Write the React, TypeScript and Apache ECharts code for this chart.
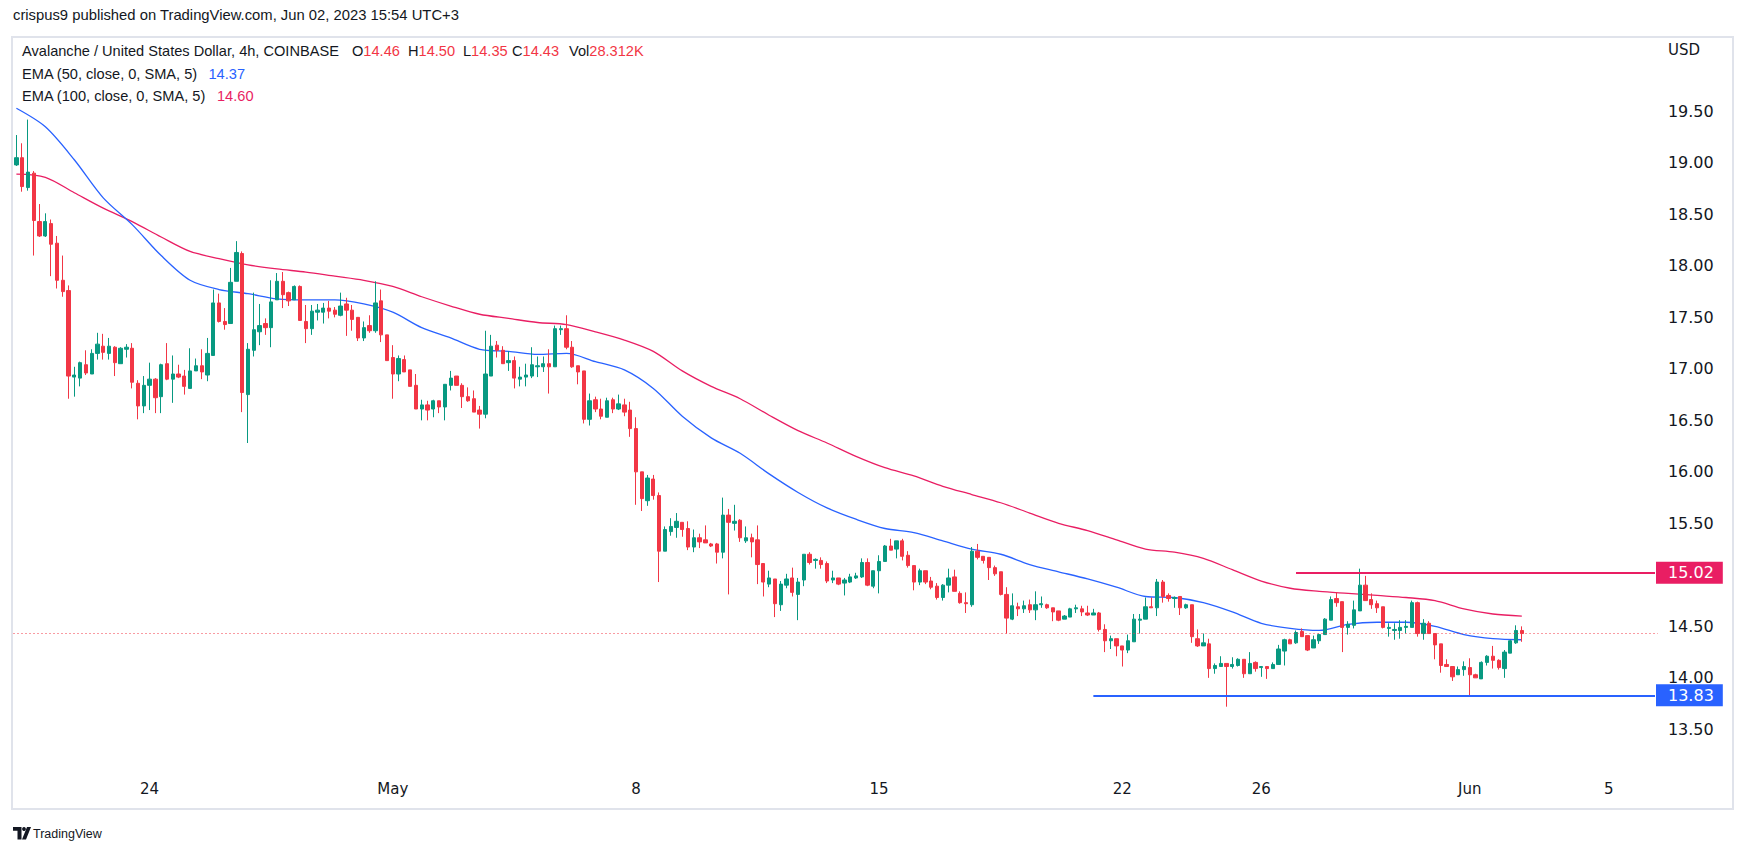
import React, { useEffect, useRef } from "react";
import * as echarts from "echarts";

// ---------- time axis ----------
const FIRST_BAR_UTC = Date.UTC(2023, 3, 20, 4, 0, 0); // first 4h candle shown
const BAR_MS = 4 * 3600 * 1000;
const SLOT_COUNT = 284; // candles + empty space on the right

const tickDates = ["2023-04-24", "2023-05-01", "2023-05-08", "2023-05-15", "2023-05-22", "2023-05-26", "2023-06-01", "2023-06-05"];
const tickLabels = ["24", "May", "8", "15", "22", "26", "Jun", "5"];

// ---------- AVAX/USD 4h candles ----------
const candleOpen = [
  18.98, 19.05, 18.76, 18.90, 18.43, 18.29, 18.41, 18.22, 17.86, 17.76,
  16.92, 16.91, 17.04, 16.95, 17.15, 17.22, 17.15, 17.21, 17.05, 17.19,
  17.20, 16.86, 16.64, 16.84, 16.90, 16.73, 17.05, 16.90, 16.95, 16.93,
  16.81, 16.98, 17.03, 16.94, 17.13, 17.64, 17.46, 17.44, 17.85, 18.12,
  16.75, 17.18, 17.36, 17.44, 17.40, 17.67, 17.85, 17.74, 17.67, 17.80,
  17.46, 17.39, 17.55, 17.55, 17.59, 17.57, 17.52, 17.63, 17.57, 17.50,
  17.30, 17.42, 17.37, 17.66, 17.33, 17.11, 16.95, 17.09, 16.99, 16.84,
  16.61, 16.65, 16.61, 16.69, 16.63, 16.84, 16.93, 16.84, 16.73, 16.71,
  16.60, 16.56, 16.93, 17.23, 17.18, 17.06, 17.08, 16.90, 16.92, 16.93,
  17.02, 17.02, 17.05, 17.02, 17.38, 17.39, 17.21, 17.03, 16.98, 16.51,
  16.70, 16.61, 16.53, 16.70, 16.61, 16.65, 16.60, 16.42, 16.00, 15.72,
  15.93, 15.77, 15.23, 15.42, 15.46, 15.51, 15.45, 15.27, 15.36, 15.34,
  15.30, 15.30, 15.22, 15.58, 15.50, 15.53, 15.33, 15.36, 15.34, 15.11,
  14.91, 14.96, 14.71, 14.90, 14.97, 14.81, 14.95, 15.20, 15.14, 15.14,
  15.11, 14.95, 14.97, 14.92, 14.93, 14.97, 14.98, 15.12, 14.89, 15.04,
  15.13, 15.28, 15.25, 15.33, 15.19, 15.09, 14.93, 15.04, 14.94, 14.89,
  14.78, 14.90, 14.98, 14.82, 14.73, 14.71, 15.23, 15.18, 15.17, 15.07,
  15.03, 14.81, 14.57, 14.69, 14.67, 14.71, 14.66, 14.71, 14.71, 14.68,
  14.65, 14.57, 14.59, 14.67, 14.67, 14.63, 14.61, 14.63, 14.47, 14.36,
  14.38, 14.31, 14.27, 14.35, 14.56, 14.57, 14.69, 14.68, 14.93, 14.80,
  14.77, 14.79, 14.68, 14.71, 14.38, 14.31, 14.33, 14.09, 14.11, 14.14,
  14.11, 14.12, 14.18, 14.04, 14.15, 14.10, 14.11, 14.09, 14.13, 14.26,
  14.37, 14.34, 14.45, 14.41, 14.29, 14.36, 14.42, 14.56, 14.77, 14.74,
  14.49, 14.51, 14.65, 14.90, 14.76, 14.72, 14.69, 14.48, 14.46, 14.46,
  14.49, 14.49, 14.73, 14.43, 14.53, 14.43, 14.33, 14.13, 14.11, 14.03,
  14.08, 14.10, 14.03, 13.99, 14.15, 14.21, 14.17, 14.09, 14.24, 14.34,
  14.46,
];
const candleClose = [
  19.05, 18.77, 18.91, 18.44, 18.29, 18.43, 18.21, 17.86, 17.75, 16.93,
  16.94, 17.06, 16.96, 17.15, 17.24, 17.16, 17.22, 17.06, 17.20, 17.21,
  16.87, 16.64, 16.84, 16.90, 16.72, 17.04, 16.90, 16.95, 16.92, 16.83,
  16.98, 17.03, 16.97, 17.15, 17.64, 17.46, 17.43, 17.84, 18.13, 16.77,
  17.19, 17.38, 17.42, 17.40, 17.65, 17.85, 17.72, 17.66, 17.80, 17.47,
  17.39, 17.56, 17.57, 17.59, 17.56, 17.53, 17.61, 17.57, 17.48, 17.30,
  17.40, 17.37, 17.64, 17.33, 17.08, 16.95, 17.10, 16.97, 16.83, 16.61,
  16.65, 16.60, 16.69, 16.63, 16.85, 16.91, 16.84, 16.73, 16.69, 16.58,
  16.56, 16.95, 17.22, 17.18, 17.05, 17.08, 16.91, 16.92, 16.94, 17.04,
  17.03, 17.05, 17.02, 17.39, 17.39, 17.21, 17.02, 16.97, 16.51, 16.69,
  16.61, 16.54, 16.69, 16.61, 16.66, 16.58, 16.42, 16.00, 15.74, 15.94,
  15.77, 15.23, 15.44, 15.47, 15.52, 15.44, 15.27, 15.36, 15.32, 15.31,
  15.28, 15.22, 15.58, 15.51, 15.52, 15.36, 15.36, 15.32, 15.10, 14.93,
  14.97, 14.72, 14.91, 14.96, 14.83, 14.93, 15.20, 15.12, 15.15, 15.10,
  14.94, 14.97, 14.91, 14.95, 14.98, 14.99, 15.12, 14.90, 15.04, 15.13,
  15.28, 15.24, 15.33, 15.18, 15.09, 14.93, 15.04, 14.93, 14.88, 14.78,
  14.90, 14.97, 14.84, 14.73, 14.72, 15.23, 15.17, 15.14, 15.07, 15.01,
  14.81, 14.58, 14.70, 14.67, 14.70, 14.66, 14.71, 14.72, 14.68, 14.64,
  14.56, 14.60, 14.67, 14.68, 14.64, 14.61, 14.63, 14.47, 14.36, 14.38,
  14.31, 14.27, 14.36, 14.57, 14.57, 14.69, 14.68, 14.93, 14.79, 14.77,
  14.78, 14.68, 14.71, 14.40, 14.31, 14.34, 14.09, 14.12, 14.14, 14.11,
  14.13, 14.18, 14.04, 14.14, 14.09, 14.11, 14.09, 14.13, 14.28, 14.37,
  14.33, 14.44, 14.40, 14.27, 14.37, 14.42, 14.57, 14.76, 14.73, 14.49,
  14.52, 14.66, 14.90, 14.75, 14.71, 14.68, 14.49, 14.49, 14.47, 14.49,
  14.50, 14.73, 14.43, 14.53, 14.43, 14.32, 14.12, 14.11, 14.01, 14.08,
  14.11, 14.03, 14.00, 14.15, 14.21, 14.17, 14.10, 14.25, 14.36, 14.46,
  14.43,
];
const candleLow = [
  18.97, 18.72, 18.73, 18.10, 18.28, 18.28, 17.90, 17.78, 17.70, 16.71,
  16.73, 16.83, 16.94, 16.95, 17.09, 17.09, 17.09, 16.93, 17.05, 17.11,
  16.81, 16.51, 16.57, 16.60, 16.57, 16.57, 16.89, 16.67, 16.91, 16.75,
  16.81, 16.98, 16.90, 16.88, 17.13, 17.45, 17.38, 17.44, 17.85, 16.58,
  16.28, 17.12, 17.23, 17.33, 17.21, 17.67, 17.59, 17.61, 17.67, 17.47,
  17.25, 17.33, 17.47, 17.44, 17.49, 17.50, 17.51, 17.32, 17.37, 17.27,
  17.27, 17.35, 17.35, 17.26, 17.08, 16.71, 16.88, 16.97, 16.83, 16.61,
  16.50, 16.50, 16.53, 16.57, 16.50, 16.79, 16.84, 16.62, 16.68, 16.58,
  16.42, 16.52, 16.93, 17.11, 17.05, 16.98, 16.81, 16.83, 16.83, 16.91,
  16.92, 16.97, 16.76, 17.02, 17.33, 17.19, 17.01, 16.85, 16.47, 16.45,
  16.58, 16.51, 16.53, 16.57, 16.60, 16.54, 16.34, 15.68, 15.62, 15.67,
  15.73, 14.93, 15.23, 15.38, 15.36, 15.37, 15.24, 15.22, 15.26, 15.31,
  15.27, 15.11, 15.16, 14.81, 15.43, 15.32, 15.31, 15.17, 14.91, 14.79,
  14.88, 14.59, 14.65, 14.87, 14.79, 14.56, 14.89, 15.10, 15.06, 15.06,
  14.92, 14.92, 14.90, 14.80, 14.92, 14.96, 14.97, 14.89, 14.87, 14.82,
  15.13, 15.24, 15.16, 15.14, 15.07, 14.85, 14.90, 14.91, 14.86, 14.76,
  14.75, 14.83, 14.84, 14.72, 14.63, 14.69, 15.15, 15.11, 14.95, 14.99,
  14.80, 14.43, 14.56, 14.60, 14.63, 14.63, 14.56, 14.68, 14.67, 14.55,
  14.55, 14.57, 14.59, 14.63, 14.60, 14.60, 14.61, 14.45, 14.25, 14.28,
  14.21, 14.11, 14.24, 14.35, 14.43, 14.57, 14.68, 14.60, 14.73, 14.74,
  14.68, 14.61, 14.67, 14.34, 14.30, 14.31, 14.00, 14.04, 14.11, 13.72,
  14.09, 14.11, 14.00, 14.04, 14.06, 14.01, 13.99, 14.09, 14.13, 14.12,
  14.33, 14.33, 14.40, 14.26, 14.29, 14.33, 14.42, 14.56, 14.69, 14.25,
  14.42, 14.48, 14.65, 14.75, 14.67, 14.63, 14.48, 14.40, 14.37, 14.38,
  14.43, 14.49, 14.40, 14.37, 14.43, 14.18, 14.05, 14.11, 13.97, 14.03,
  14.02, 13.83, 14.00, 13.99, 14.12, 14.09, 14.08, 14.00, 14.24, 14.33,
  14.35,
];
const candleHigh = [
  19.27, 19.19, 19.42, 18.92, 18.60, 18.51, 18.45, 18.29, 18.10, 17.81,
  17.02, 17.07, 17.18, 17.19, 17.35, 17.34, 17.30, 17.22, 17.21, 17.24,
  17.25, 16.89, 16.93, 17.06, 16.91, 17.05, 17.25, 17.13, 17.04, 16.99,
  17.20, 17.10, 17.19, 17.30, 17.77, 17.73, 17.59, 17.98, 18.24, 18.14,
  17.25, 17.74, 17.63, 17.49, 17.86, 17.93, 17.94, 17.75, 17.81, 17.81,
  17.62, 17.62, 17.63, 17.64, 17.66, 17.60, 17.74, 17.69, 17.62, 17.50,
  17.46, 17.52, 17.85, 17.77, 17.33, 17.23, 17.13, 17.13, 16.99, 16.95,
  16.70, 16.69, 16.70, 16.69, 16.85, 16.98, 16.93, 16.86, 16.82, 16.79,
  16.64, 17.37, 17.33, 17.27, 17.22, 17.17, 17.12, 17.02, 17.05, 17.21,
  17.12, 17.12, 17.19, 17.42, 17.42, 17.52, 17.27, 17.03, 16.98, 16.76,
  16.73, 16.71, 16.72, 16.72, 16.75, 16.71, 16.68, 16.53, 16.00, 15.97,
  15.97, 15.80, 15.47, 15.55, 15.60, 15.51, 15.52, 15.44, 15.40, 15.48,
  15.31, 15.31, 15.75, 15.64, 15.68, 15.54, 15.47, 15.40, 15.48, 15.11,
  15.04, 14.96, 14.94, 15.01, 15.07, 14.97, 15.20, 15.22, 15.16, 15.17,
  15.13, 15.04, 14.97, 14.97, 15.01, 15.02, 15.16, 15.16, 15.04, 15.19,
  15.29, 15.35, 15.33, 15.35, 15.23, 15.09, 15.06, 15.04, 14.98, 14.92,
  14.91, 15.06, 15.05, 14.84, 14.83, 15.27, 15.30, 15.18, 15.17, 15.09,
  15.03, 14.88, 14.82, 14.73, 14.75, 14.76, 14.84, 14.79, 14.72, 14.68,
  14.65, 14.61, 14.68, 14.71, 14.70, 14.70, 14.67, 14.64, 14.52, 14.41,
  14.38, 14.31, 14.42, 14.62, 14.62, 14.78, 14.78, 14.96, 14.95, 14.82,
  14.79, 14.79, 14.72, 14.71, 14.47, 14.43, 14.38, 14.14, 14.21, 14.14,
  14.20, 14.19, 14.18, 14.25, 14.16, 14.11, 14.11, 14.15, 14.32, 14.38,
  14.38, 14.46, 14.48, 14.41, 14.41, 14.43, 14.58, 14.79, 14.83, 14.74,
  14.55, 14.75, 15.06, 14.99, 14.82, 14.75, 14.69, 14.53, 14.53, 14.56,
  14.56, 14.75, 14.74, 14.57, 14.55, 14.43, 14.33, 14.18, 14.11, 14.11,
  14.16, 14.19, 14.04, 14.16, 14.22, 14.31, 14.18, 14.27, 14.37, 14.51,
  14.50,
];
const lastVolume = "28.312K";

// ---------- EMA lines, read every 5th candle ----------
const emaSampleIdx = Array.from({ length: 53 }, (_, k) => k * 5);
const ema50 = [
  19.53, 19.35, 19.03, 18.66, 18.40, 18.10, 17.86, 17.77, 17.73, 17.68,
  17.67, 17.67, 17.63, 17.55, 17.40, 17.30, 17.19, 17.17, 17.14, 17.15,
  17.07, 16.99, 16.81, 16.54, 16.33, 16.18, 15.98, 15.80, 15.65, 15.54,
  15.45, 15.41, 15.33, 15.25, 15.20, 15.10, 15.03, 14.96, 14.88, 14.79,
  14.78, 14.73, 14.64, 14.53, 14.48, 14.46, 14.52, 14.54, 14.54, 14.50,
  14.42, 14.38, 14.37,
];
const ema100 = [
  18.89, 18.86, 18.71, 18.56, 18.43, 18.28, 18.14, 18.07, 18.01, 17.97,
  17.94, 17.90, 17.86, 17.80, 17.70, 17.61, 17.53, 17.49, 17.45, 17.43,
  17.36, 17.28, 17.17, 16.98, 16.83, 16.71, 16.55, 16.40, 16.28, 16.15,
  16.04, 15.96, 15.86, 15.78, 15.70, 15.60, 15.50, 15.43, 15.34, 15.25,
  15.22, 15.16, 15.05, 14.94, 14.87, 14.84, 14.82, 14.80, 14.78, 14.75,
  14.67, 14.62, 14.60,
];

// ---------- drawn horizontal levels ----------
const levelPrices = [15.02, 13.83];
const levelFromIdx = [221, 186];

const UP = "#089981";
const DOWN = "#f23645";
const BLUE = "#2962ff";
const PINK = "#e91e63";
const INK = "#131722";
const levelColors = [PINK, BLUE];

const UI_FONT = "Liberation Sans";
const AXIS_FONT = "DejaVu Sans";

export default function App() {
  const ref = useRef<HTMLDivElement>(null);

  useEffect(() => {
    if (!ref.current) return;
    const chart = echarts.init(ref.current, null, { renderer: "svg" });

    const categories = Array.from({ length: SLOT_COUNT }, (_, k) =>
      new Date(FIRST_BAR_UTC + k * BAR_MS).toISOString()
    );
    const labelAt: Record<number, string> = {};
    categories.forEach((c, k) => {
      const t = tickDates.indexOf(c.slice(0, 10));
      if (t >= 0 && c.slice(11, 13) === "00") labelAt[k] = tickLabels[t];
    });

    const candles = candleOpen.map((o, k) => [o, candleClose[k], candleLow[k], candleHigh[k]]);
    const n = candles.length;
    const lastO = candleOpen[n - 1];
    const lastH = candleHigh[n - 1];
    const lastL = candleLow[n - 1];
    const lastC = candleClose[n - 1];

    const levelLines = levelPrices.map((p, j) => [
      {
        coord: [levelFromIdx[j], p],
        lineStyle: { color: levelColors[j], width: 2, type: "solid" },
        label: {
          show: true,
          position: "end",
          distance: 1,
          formatter: p.toFixed(2),
          backgroundColor: levelColors[j],
          color: "#ffffff",
          fontSize: 16,
          fontFamily: AXIS_FONT,
          padding: [3, 9, 3, 12],
        },
      },
      { coord: [SLOT_COUNT - 1, p] },
    ]);

    const txt = (x: number, y: number, text: string, fill: string, size = 14.5, extra: any = {}) => ({
      type: "text",
      x,
      y,
      silent: true,
      style: { text, fill, fontSize: size, fontFamily: UI_FONT, verticalAlign: "middle", ...extra },
    });

    const ohlcItems = [
      ["O", lastO.toFixed(2), 352],
      ["H", lastH.toFixed(2), 408],
      ["L", lastL.toFixed(2), 463],
      ["C", lastC.toFixed(2), 512],
      ["Vol", lastVolume, 569],
    ] as [string, string, number][];

    const legendValueColor = lastC < lastO ? DOWN : UP;

    chart.setOption({
      animation: false,
      backgroundColor: "#ffffff",
      grid: { left: 13.5, right: 88.1, top: 8.35, bottom: 75.15 },
      xAxis: {
        type: "category",
        data: categories,
        boundaryGap: true,
        axisLine: { show: false },
        axisTick: { show: false },
        splitLine: { show: false },
        axisLabel: {
          interval: (k: number) => labelAt[k] !== undefined,
          formatter: (_v: string, k: number) => labelAt[k] ?? "",
          color: INK,
          fontSize: 15,
          fontFamily: AXIS_FONT,
          margin: 1,
        },
      },
      yAxis: {
        type: "value",
        position: "right",
        min: 13,
        max: 20.5,
        interval: 0.5,
        axisLine: { show: false },
        axisTick: { show: false },
        splitLine: { show: false },
        axisLabel: {
          formatter: (v: number) => (v >= 13.49 && v <= 19.51 ? v.toFixed(2) : ""),
          color: INK,
          fontSize: 16,
          fontFamily: AXIS_FONT,
          margin: 10,
        },
      },
      series: [
        {
          type: "line",
          name: "EMA100",
          data: emaSampleIdx.map((k, j) => [k, ema100[j]]),
          smooth: 0.3,
          symbol: "none",
          lineStyle: { color: PINK, width: 1.3 },
          z: 1,
        },
        {
          type: "line",
          name: "EMA50",
          data: emaSampleIdx.map((k, j) => [k, ema50[j]]),
          smooth: 0.3,
          symbol: "none",
          lineStyle: { color: BLUE, width: 1.3 },
          z: 1,
        },
        {
          type: "candlestick",
          data: candles,
          barWidth: 3.8,
          itemStyle: {
            color: UP,
            color0: DOWN,
            borderColor: UP,
            borderColor0: DOWN,
            borderWidth: 1,
          },
          z: 3,
          markLine: {
            silent: true,
            symbol: ["none", "none"],
            data: [
              {
                yAxis: lastC,
                lineStyle: { color: DOWN, width: 1, type: [1, 3] },
                label: { show: false },
              },
              ...levelLines,
            ],
          },
        },
      ],
      graphic: [
        {
          type: "rect",
          silent: true,
          z: -10,
          shape: { x: 12, y: 37, width: 1721, height: 772 },
          style: { fill: "none", stroke: "#e0e3eb", lineWidth: 2 },
        },
        txt(13, 14.5, "crispus9 published on TradingView.com, Jun 02, 2023 15:54 UTC+3", INK, 14.8),
        txt(22, 51, "Avalanche / United States Dollar, 4h, COINBASE", INK, 14.6),
        ...ohlcItems.map(([lab, val, x]) => ({
          type: "text",
          x,
          y: 51,
          silent: true,
          style: {
            text: `{l|${lab}}{v|${val}}`,
            fontSize: 14.6,
            fontFamily: UI_FONT,
            verticalAlign: "middle",
            rich: {
              l: { fill: INK, fontSize: 14.6, fontFamily: UI_FONT },
              v: { fill: legendValueColor, fontSize: 14.6, fontFamily: UI_FONT },
            },
          },
        })),
        txt(22, 73.5, "EMA (50, close, 0, SMA, 5)", INK, 14.6),
        txt(208.5, 73.5, ema50[ema50.length - 1].toFixed(2), BLUE, 14.6),
        txt(22, 95.8, "EMA (100, close, 0, SMA, 5)", INK, 14.6),
        txt(217, 95.8, ema100[ema100.length - 1].toFixed(2), PINK, 14.6),
        {
          type: "text",
          x: 1668,
          y: 50,
          silent: true,
          style: { text: "USD", fill: INK, fontSize: 15, fontFamily: AXIS_FONT, verticalAlign: "middle" },
        },
        // TradingView footer logo
        {
          type: "polygon",
          silent: true,
          shape: { points: [[13, 827], [21.5, 827], [21.5, 839.5], [17.5, 839.5], [17.5, 830.8], [13, 830.8]] },
          style: { fill: INK },
        },
        { type: "circle", silent: true, shape: { cx: 24, cy: 829, r: 1.9 }, style: { fill: INK } },
        {
          type: "polygon",
          silent: true,
          shape: { points: [[27, 827], [31, 827], [26, 839.5], [22, 839.5]] },
          style: { fill: INK },
        },
        txt(33, 833.5, "TradingView", INK, 12.5),
      ],
    });

    return () => chart.dispose();
  }, []);

  return (
    <div
      ref={ref}
      style={{ position: "absolute", left: 0, top: 0, width: 1746, height: 856, background: "#ffffff" }}
    />
  );
}
